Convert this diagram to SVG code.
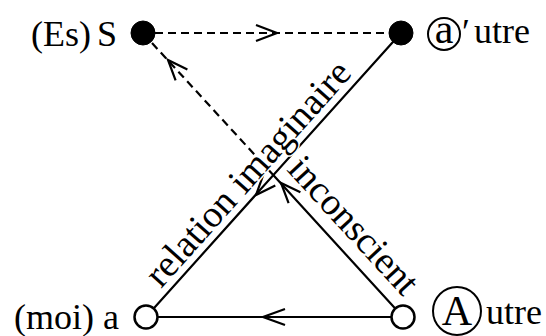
<svg xmlns="http://www.w3.org/2000/svg" width="546" height="336" viewBox="0 0 546 336">
<style>
.ln{stroke:#000;stroke-width:2.2;fill:none;stroke-linecap:round}
.ds{stroke-dasharray:8 5;stroke-linecap:butt}
.ar{stroke:#000;stroke-width:2.2;fill:none;stroke-linejoin:miter}
.lbl{font-family:"Liberation Serif","Times New Roman",serif;font-size:36px;fill:#000}
.big{font-size:42px}
.rt{font-family:"Liberation Serif","Times New Roman",serif;font-size:38px;fill:#000;stroke:#fff;stroke-width:3;paint-order:stroke}
.fn{fill:#000;stroke:#000;stroke-width:1}
.on{fill:#fff;stroke:#000;stroke-width:2.5}
.ring{fill:none;stroke:#000;stroke-width:2}
</style>
<rect width="546" height="336" fill="#fff"/>
<g id="connectors">
<path class="ln ds" d="M155,33 L389,33"/>
<polyline class="ar" points="256,25 277,33 256,41"/>
<path class="ln" d="M391,317 L158,317"/>
<polyline class="ar" points="285,309 263,317 285,325"/>
<path class="ln" d="M401,33 L146,317"/>
<polyline class="ar" points="275.3,185.4 256,195 263.3,174.8"/>
<path class="ln" d="M403,317 L265,166"/>
<polyline class="ar" points="300.4,192.3 281,183 288.6,203.1"/>
<path class="ln ds" d="M152,43 L265,166"/>
<polyline class="ar" points="187.4,69.5 168,60 175.6,80.3"/>
</g>
<g id="edge-labels">
<text class="rt" transform="translate(161,289) rotate(-48.2)">relation imaginaire</text>
<text class="rt" transform="translate(286,170) rotate(47.4)">inconscient</text>
</g>
<g id="node-S">
<circle class="fn" cx="143" cy="33" r="12"/>
<text class="lbl" x="117" y="46" text-anchor="end" word-spacing="-3">(Es) S</text>
</g>
<g id="node-aprime">
<circle class="fn" cx="401" cy="33" r="12"/>
<circle class="ring" cx="444" cy="34" r="16"/>
<text class="lbl big" x="444" y="43" text-anchor="middle">a</text>
<text class="lbl" x="462" y="44">′</text>
<text class="lbl" x="474" y="43">utre</text>
</g>
<g id="node-a">
<circle class="on" cx="146" cy="317" r="11.5"/>
<text class="lbl" x="119" y="329" text-anchor="end">(moi) a</text>
</g>
<g id="node-A">
<circle class="on" cx="403" cy="317" r="11.5"/>
<circle class="ring" cx="457" cy="311" r="24"/>
<text class="lbl big" x="457" y="325" text-anchor="middle">A</text>
<text class="lbl" x="486" y="324">utre</text>
</g>
</svg>
